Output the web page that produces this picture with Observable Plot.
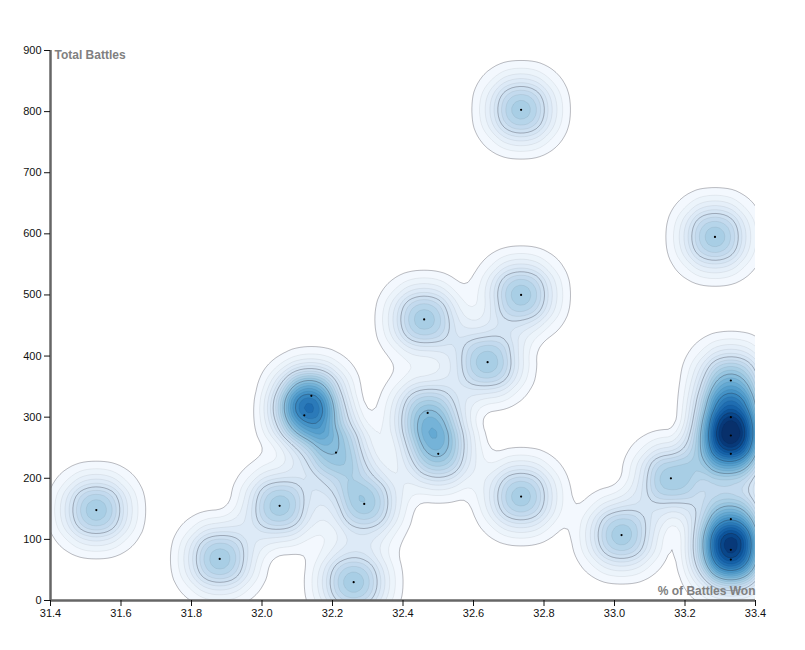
<!DOCTYPE html>
<html><head><meta charset="utf-8">
<script src="https://cdn.jsdelivr.net/npm/d3@7"></script>
<script src="https://cdn.jsdelivr.net/npm/@observablehq/plot@0.6"></script>
<style>body{margin:0;background:#fff}svg{display:block}</style></head><body>
<script>
const winPct = [31.53,31.88,32.05,32.14,32.12,32.21,32.29,32.26,32.47,32.50,32.46,32.64,32.735,32.735,32.735,33.285,33.02,33.16,33.33,33.33,33.33,33.33,33.33,33.33,33.33];
const battles = [148,68,155,335,303,242,158,30,307,240,460,390,500,170,803,595,107,200,360,300,270,240,133,83,67];
const data = winPct.map((x,i)=>({x,y:battles[i]}));
const xTicks = d3.range(31.4,33.41,0.2).map(v=>+v.toFixed(1));
const yTicks = d3.range(0,901,100);
const font = "Liberation Sans, Arial, sans-serif";
const T0=0.0026, S=0.0032, N=23;
const levels = d3.range(N).map(i=>T0+S*i);
const major = levels.filter((d,i)=>i%5===0);
const plot = Plot.plot({
  width:805,height:650,marginLeft:50,marginRight:50,marginTop:50,marginBottom:50,
  style:{fontFamily:font,fontSize:"11px",background:"#fff"},
  x:{domain:[31.4,33.4]},y:{domain:[0,900]},
  color:{type:"pow",exponent:1.15,range:[0,1],interpolate:d3.interpolateBlues,domain:[0,0.072]},
  marks:[
    Plot.density(data,{x:"x",y:"y",bandwidth:20,thresholds:levels,fill:"density",stroke:"#000",strokeOpacity:0.06,strokeWidth:1,clip:true}),
    Plot.density(data,{x:"x",y:"y",bandwidth:20,thresholds:major,fill:"none",stroke:"#223",strokeOpacity:0.25,strokeWidth:1,clip:true}),
    Plot.dot(data,{x:"x",y:"y",r:1.1,fill:"#000"}),
    Plot.ruleX([31.4],{stroke:"#666",strokeWidth:2.5}),
    Plot.ruleY([0],{stroke:"#666",strokeWidth:2.5}),
    Plot.axisX({ticks:xTicks,label:null,tickSize:6,tickPadding:3,tickFormat:d=>d.toFixed(1),color:"#111"}),
    Plot.axisY({ticks:yTicks,label:null,tickSize:6,tickPadding:3,color:"#111"}),
    Plot.text(["Total Battles"],{frameAnchor:"top-left",dx:4,dy:0,fontWeight:"bold",fontSize:12,fill:"#808080"}),
    Plot.text(["% of Battles Won"],{frameAnchor:"bottom-right",dy:-6,fontWeight:"bold",fontSize:12,fill:"#808080"})
  ]
});
document.body.appendChild(plot);
</script></body></html>
